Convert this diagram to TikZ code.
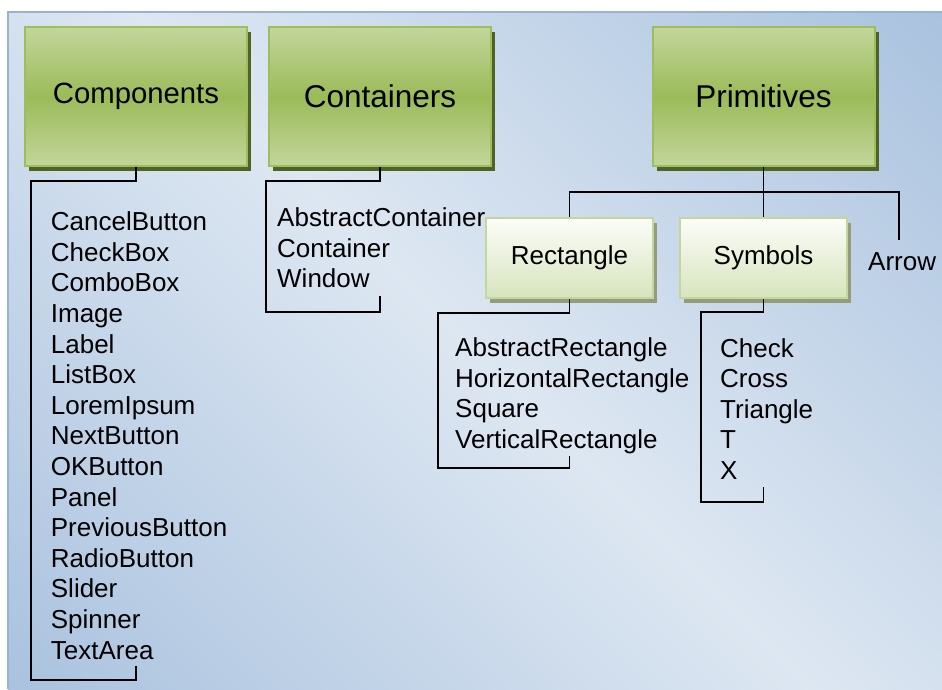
\documentclass[tikz,border=0pt]{standalone}
\usepackage{fontspec}
\setmainfont{Liberation Sans}
\usetikzlibrary{shadows}

\definecolor{bgblue}{RGB}{149,179,215}
\definecolor{bglight}{RGB}{221,231,242}
\definecolor{boxlight}{RGB}{195,214,155}
\definecolor{boxmid}{RGB}{155,187,89}
\definecolor{boxedge}{RGB}{158,190,92}
\definecolor{boxshadow}{RGB}{79,98,40}
\definecolor{subtop}{RGB}{252,253,249}
\definecolor{subbottom}{RGB}{215,228,189}
\definecolor{subedge}{RGB}{195,214,155}
\definecolor{subshadow}{RGB}{148,156,126}

\pgfdeclarehorizontalshading{bgshade}{100bp}{color(0bp)=(bgblue); color(50bp)=(bglight); color(100bp)=(bgblue)}

\tikzset{
	bigbox/.style={draw=boxedge, line width=2pt, top color=boxlight, bottom color=boxlight, middle color=boxmid,
		minimum width=222pt, minimum height=139pt, inner sep=0pt,
		general shadow={fill=boxshadow, shadow xshift=4pt, shadow yshift=-5pt}},
	subbox/.style={draw=subedge, line width=2pt, top color=subtop, bottom color=subbottom,
		minimum width=167pt, minimum height=80pt, inner sep=0pt, font=\fontsize{26}{30}\selectfont,
		general shadow={fill=subshadow, shadow xshift=3.5pt, shadow yshift=-5pt}},
	item/.style={anchor=base west, inner sep=0pt, font=\fontsize{26}{30}\selectfont},
	link/.style={line width=1.6pt, black}
}

\begin{document}
\begin{tikzpicture}[x=1pt, y=-1pt]
	%%%%% START %%%%%
	\useasboundingbox (0,0) rectangle (942,689);
	
	% background panel
	\shade[shading=bgshade, shading angle=45] (8,12) rectangle (942,689);
	\draw[bgblue, line width=1.2pt] (8,689) -- (8,12) -- (942,12);
	
	% top level boxes
	\node[bigbox, font=\fontsize{29.3}{34}\selectfont] (comp) at (136,96.5) {Components};
	\node[bigbox, font=\fontsize{31.5}{36}\selectfont] (cont) at (380,96.5) {Containers};
	\node[bigbox, font=\fontsize{31.5}{36}\selectfont] (prim) at (763.5,96.5) {Primitives};
	
	% second level boxes
	\node[subbox] (rect) at (569.5,258) {Rectangle};
	\node[subbox] (sym) at (763.5,258) {Symbols};
	\node[item] (arrow) at (868,270.7) {Arrow};
	
	% lists
	\foreach \name [count=\i from 0] in {CancelButton,CheckBox,ComboBox,Image,Label,ListBox,LoremIpsum,NextButton,OKButton,Panel,PreviousButton,RadioButton,Slider,Spinner,TextArea}
		\node[item] (comp-\i) at (50.7,{230.7+30.6*\i}) {\name};
	
	\foreach \name [count=\i from 0] in {AbstractContainer,Container,Window}
		\node[item] (cont-\i) at (277,{226.7+30.6*\i}) {\name};
	
	\foreach \name [count=\i from 0] in {AbstractRectangle,HorizontalRectangle,Square,VerticalRectangle}
		\node[item] (rect-\i) at (455,{356.7+30.6*\i}) {\name};
	
	\foreach \name [count=\i from 0] in {Check,Cross,Triangle,T,X}
		\node[item] (sym-\i) at (720,{357+30.6*\i}) {\name};
	
	% bracket corners
	\coordinate (compTL) at (31,181);
	\coordinate (compBL) at (31,680);
	\coordinate (compEnd) at (136,666);
	\coordinate (contTL) at (266,181);
	\coordinate (contBL) at (266,312);
	\coordinate (contEnd) at (380,296);
	\coordinate (rectTL) at (438,313);
	\coordinate (rectBL) at (438,468);
	\coordinate (rectEnd) at (569.5,456);
	\coordinate (symTL) at (701,312);
	\coordinate (symBL) at (701,502);
	\coordinate (symEnd) at (763.5,487);
	\coordinate (bus) at (763.5,192);
	\coordinate (arrowTop) at (899,192);
	\coordinate (arrowEnd) at (899,240);
	
	% connectors
	\draw[link] (comp.south) |- (compTL) -- (compBL) -| (compEnd);
	\draw[link] (cont.south) |- (contTL) -- (contBL) -| (contEnd);
	\draw[link] (prim.south) -- (bus) -- (sym.north);
	\draw[link] (rect.north) |- (arrowTop) -- (arrowEnd);
	\draw[link] (rect.south) |- (rectTL) -- (rectBL) -| (rectEnd);
	\draw[link] (sym.south) |- (symTL) -- (symBL) -| (symEnd);
	
	%%%%% END %%%%%
\end{tikzpicture}
\end{document}
